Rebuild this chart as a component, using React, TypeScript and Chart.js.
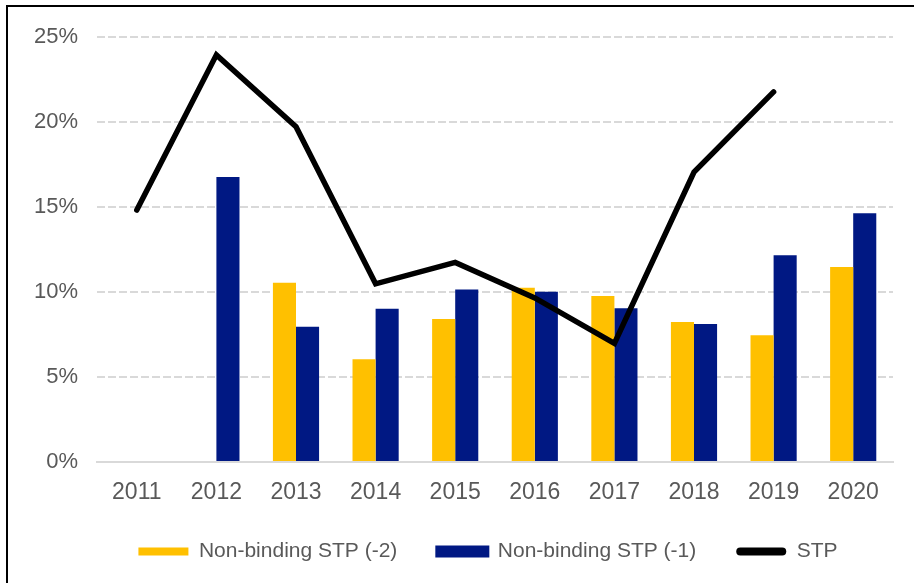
import { useEffect, useRef } from "react";
import { Chart, registerables } from "chart.js";

Chart.register(...registerables);

const years = ["2011", "2012", "2013", "2014", "2015", "2016", "2017", "2018", "2019", "2020"];
const nonBinding2 = [null, null, 10.55, 6.04, 8.41, 10.25, 9.76, 8.24, 7.45, 11.47];
const nonBinding1 = [null, 16.76, 7.96, 9.02, 10.14, 10.02, 9.04, 8.12, 12.16, 14.63];
const stp = [14.82, 23.95, 19.72, 10.48, 11.74, 9.65, 6.98, 17.06, 21.77, null];
const yMin = 0;
const yMax = 25;
const yStep = 5;

const YELLOW = "#FFC000";
const NAVY = "#001883";
const TEXT = "#595959";
const GRID = "#D9D9D9";
const FONT = "'Liberation Sans', Arial, sans-serif";

const legendShift = {
  id: "legendShift",
  afterLayout(chart: any) {
    const lg = chart.legend;
    if (lg) {
      lg.left = chart.chartArea.left - 14;
      lg.right = chart.chartArea.right;
    }
  },
};

export default function App() {
  const ref = useRef<HTMLCanvasElement>(null);

  useEffect(() => {
    const chart = new Chart(ref.current!, {
      type: "bar",
      data: {
        labels: years,
        datasets: [
          {
            type: "bar",
            label: "Non-binding STP (-2)",
            data: nonBinding2,
            backgroundColor: YELLOW,
            categoryPercentage: 0.58,
            barPercentage: 1,
            order: 1,
          },
          {
            type: "bar",
            label: "Non-binding STP (-1)",
            data: nonBinding1,
            backgroundColor: NAVY,
            categoryPercentage: 0.58,
            barPercentage: 1,
            order: 1,
          },
          {
            type: "line",
            label: "STP",
            data: stp,
            borderColor: "#000000",
            backgroundColor: "#000000",
            borderWidth: 5.5,
            pointRadius: 0,
            borderCapStyle: "round",
            borderJoinStyle: "miter",
            tension: 0,
            order: 0,
          },
        ] as any,
      },
      plugins: [legendShift],
      options: {
        responsive: false,
        animation: false,
        devicePixelRatio: 1,
        layout: { padding: { left: 20, right: 21, top: 37, bottom: 11 } },
        scales: {
          x: {
            grid: { display: false, drawTicks: false },
            border: { display: true, color: GRID, width: 2 },
            ticks: { color: TEXT, font: { family: FONT, size: 23 }, padding: 17 },
            afterFit: (s: any) => {
              s.height = 39;
            },
          },
          y: {
            min: yMin,
            max: yMax,
            ticks: {
              stepSize: yStep,
              color: TEXT,
              font: { family: FONT, size: 22 },
              padding: 19,
              callback: (v: any) => v + "%",
            },
            grid: { color: GRID, lineWidth: 2, drawTicks: false },
            border: { display: false, dash: [8, 3] },
            afterFit: (s: any) => {
              s.width = 77;
            },
          },
        },
        plugins: {
          tooltip: { enabled: false },
          legend: {
            position: "bottom",
            labels: {
              color: TEXT,
              font: { family: FONT, size: 21 },
              boxWidth: 50,
              boxHeight: 8,
              padding: 40,
              sort: (a: any, b: any) => a.datasetIndex - b.datasetIndex,
              generateLabels: (c: any) => {
                const items = (Chart.defaults.plugins.legend.labels as any).generateLabels(c);
                return items.map((it: any) => {
                  if (it.datasetIndex === 1) {
                    return { ...it, lineWidth: 4, strokeStyle: NAVY };
                  }
                  if (it.datasetIndex === 2) {
                    return { ...it, lineWidth: 0, fillStyle: "#000000", borderRadius: 4 };
                  }
                  return { ...it, lineWidth: 0 };
                });
              },
            },
          },
        },
      } as any,
    });
    return () => chart.destroy();
  }, []);

  return (
    <div style={{ position: "absolute", left: 0, top: 0, width: 914, height: 583, overflow: "hidden", background: "#fff" }}>
      <div
        style={{
          position: "absolute",
          left: 6,
          top: 5,
          width: 950,
          height: 650,
          borderTop: "2px solid #000",
          borderLeft: "2px solid #000",
        }}
      />
      <canvas ref={ref} width={914} height={583} style={{ position: "absolute", left: 0, top: 0, width: 914, height: 583 }} />
    </div>
  );
}
